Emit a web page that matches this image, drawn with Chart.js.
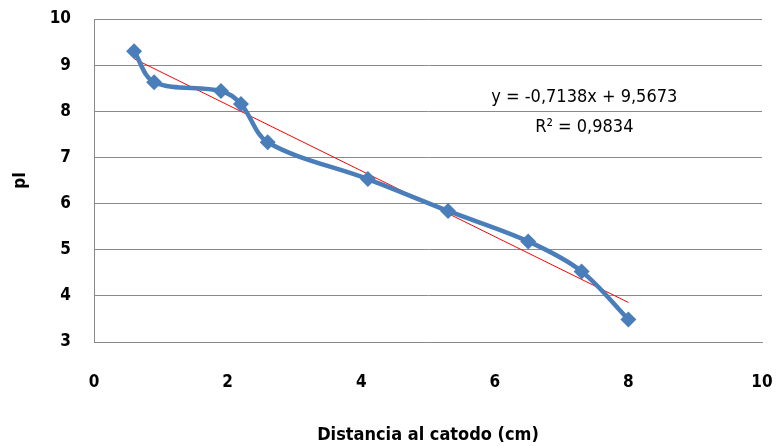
<!DOCTYPE html>
<html>
<head>
<meta charset="utf-8">
<script src="https://cdn.jsdelivr.net/npm/chart.js@4.4.1/dist/chart.umd.min.js"></script>
<style>
  html, body { margin: 0; padding: 0; background: #fff; }
  #wrap { width: 781px; height: 446px; }
</style>
</head>
<body>
<div id="wrap"><canvas id="myChart" width="781" height="446"></canvas></div>
<script>
// distance to cathode (cm) and measured pI
const distances = [0.6, 0.9, 1.9, 2.2, 2.6, 4.1, 5.3, 6.5, 7.3, 8.0];
const pIValues = [9.3, 8.63, 8.44, 8.16, 7.33, 6.53, 5.84, 5.18, 4.53, 3.49];

// linear fit reported on the chart
const slope = -0.7138;
const intercept = 9.5673;
const rSquared = 0.9834;
const fitRange = [0.6, 8.0];

const xTicks = [0, 2, 4, 6, 8, 10];
const yTicks = [3, 4, 5, 6, 7, 8, 9, 10];

const FONT = "'Liberation Sans Narrow', 'DejaVu Sans Condensed', sans-serif";
const BLUE = '#4a7ebb';
const GRID = '#8a8a8a';

const points = distances.map((d, i) => ({x: d, y: pIValues[i]}));
const fitLine = fitRange.map(x => ({x: x, y: slope * x + intercept}));

function fmt(v) {
    return v.toFixed(4).replace('.', ',');
}

const equationLabel = {
    id: 'equationLabel',
    afterDatasetsDraw(chart) {
        const ctx = chart.ctx;
        const sx = chart.scales.x;
        const sy = chart.scales.y;
        const cx = sx.getPixelForValue(7.34);
        ctx.save();
        ctx.fillStyle = '#000';
        ctx.font = '18px ' + FONT;
        ctx.textAlign = 'center';
        ctx.textBaseline = 'middle';
        const sign = intercept >= 0 ? ' + ' : ' - ';
        ctx.fillText('y = ' + fmt(slope) + 'x' + sign + fmt(Math.abs(intercept)), cx, sy.getPixelForValue(8.31));
        ctx.fillText('R² = ' + fmt(rSquared), cx, sy.getPixelForValue(7.65));
        ctx.restore();
    }
};

const config = {
    type: 'scatter',
    data: {
        datasets: [{
            label: 'pI',
            data: points,
            showLine: true,
            borderColor: BLUE,
            backgroundColor: BLUE,
            borderWidth: 4.5,
            tension: 0.33,
            pointStyle: 'rectRot',
            pointRadius: 8,
            pointHoverRadius: 8,
            pointBorderWidth: 0
        }, {
            label: 'Lineal',
            data: fitLine,
            showLine: true,
            borderColor: '#ff0000',
            borderWidth: 1,
            pointRadius: 0,
            tension: 0
        }]
    },
    options: {
        responsive: false,
        animation: false,
        layout: { padding: { left: 0, right: 19, top: 19, bottom: 0 } },
        plugins: {
            legend: { display: false },
            tooltip: { enabled: false }
        },
        scales: {
            x: {
                type: 'linear',
                min: 0,
                max: 10,
                afterBuildTicks: s => { s.ticks = xTicks.map(v => ({value: v})); },
                afterFit: s => {
                    s.height = 104;
                    s.paddingLeft = 0;
                    s.paddingRight = 0;
                },
                grid: { display: false, drawTicks: false },
                border: { display: true, color: GRID, width: 1 },
                ticks: {
                    padding: 30,
                    color: '#000',
                    font: { family: FONT, size: 17, weight: 'bold' }
                },
                title: {
                    display: true,
                    text: 'Distancia al catodo (cm)',
                    color: '#000',
                    font: { family: FONT, size: 18, weight: 'bold' },
                    padding: { top: 0, bottom: 0 }
                }
            },
            y: {
                type: 'linear',
                min: 3,
                max: 10,
                afterBuildTicks: s => { s.ticks = yTicks.map(v => ({value: v})); },
                afterFit: s => {
                    s.width = 94;
                    s.paddingTop = 0;
                    s.paddingBottom = 0;
                },
                grid: { color: GRID, lineWidth: 1, drawTicks: false },
                border: { display: true, color: GRID, width: 1 },
                ticks: {
                    padding: 23,
                    color: '#000',
                    font: { family: FONT, size: 17, weight: 'bold' }
                },
                title: {
                    display: true,
                    text: 'pI',
                    color: '#000',
                    font: { family: FONT, size: 17, weight: 'bold' },
                    padding: { top: 10, bottom: 0 }
                }
            }
        }
    },
    plugins: [equationLabel]
};

const myChart = new Chart(document.getElementById('myChart'), config);
</script>
</body>
</html>
